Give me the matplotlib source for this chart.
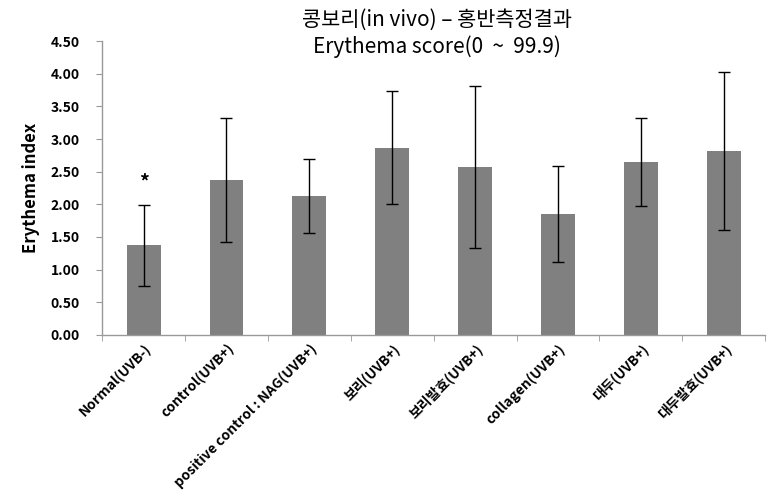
import numpy as np
import matplotlib
matplotlib.use("Agg")
from matplotlib import pyplot as plt

plt.rcParams['font.family'] = ['Noto Sans CJK KR', 'DejaVu Sans']

groups = ["Normal(UVB-)", "control(UVB+)", "positive control : NAG(UVB+)",
          "보리(UVB+)", "보리발효(UVB+)", "collagen(UVB+)", "대두(UVB+)", "대두발효(UVB+)"]
means = [1.37, 2.37, 2.13, 2.87, 2.57, 1.85, 2.65, 2.81]
errors = [0.62, 0.95, 0.57, 0.87, 1.24, 0.74, 0.68, 1.21]
marked = [True, False, False, False, False, False, False, False]

fig = plt.figure(figsize=(7.8, 4.96), dpi=100)
ax = fig.add_axes([0.131, 0.325, 0.850, 0.592])

x = np.arange(len(groups))
ax.bar(x, means, width=0.41, color='#808080', zorder=2)
ax.errorbar(x, means, yerr=errors, fmt='none', ecolor='black',
            elinewidth=1, capsize=4, capthick=1, zorder=3)

for xi, m, e, flag in zip(x, means, errors, marked):
    if flag:
        ax.text(xi, m + e + 0.35, "*", ha='center', va='center',
                fontsize=14, fontweight='bold')

ax.set_xlim(-0.5, len(groups) - 0.5)
ax.set_ylim(0, 4.5)
ax.set_yticks(np.arange(0, 4.51, 0.5))
ax.set_yticklabels([f"{v:.2f}" for v in np.arange(0, 4.51, 0.5)],
                   fontsize=10, fontweight='bold')

ax.set_xticks(x)
ax.set_xticklabels(groups, rotation=45, ha='right', rotation_mode='anchor',
                   fontsize=10, fontweight='bold')
ax.set_xticks(np.arange(-0.5, len(groups)), minor=True)
ax.tick_params(axis='x', which='major', length=0, pad=5)
ax.tick_params(axis='x', which='minor', length=4, color='#999999', direction='out')
ax.tick_params(axis='y', length=4, color='#999999', direction='out', pad=12)

for side in ['top', 'right']:
    ax.spines[side].set_visible(False)
for side in ['left', 'bottom']:
    ax.spines[side].set_color('#999999')
    ax.spines[side].set_linewidth(1)

ax.set_ylabel("Erythema index", fontsize=12, fontweight='bold', labelpad=8)

fig.text(0.560, 0.960, "콩보리(in vivo) – 홍반측정결과", ha='center', va='center', fontsize=15)
fig.text(0.560, 0.905, "Erythema score(0  ~  99.9)", ha='center', va='center', fontsize=15)

fig.savefig("out.png", dpi=100)
